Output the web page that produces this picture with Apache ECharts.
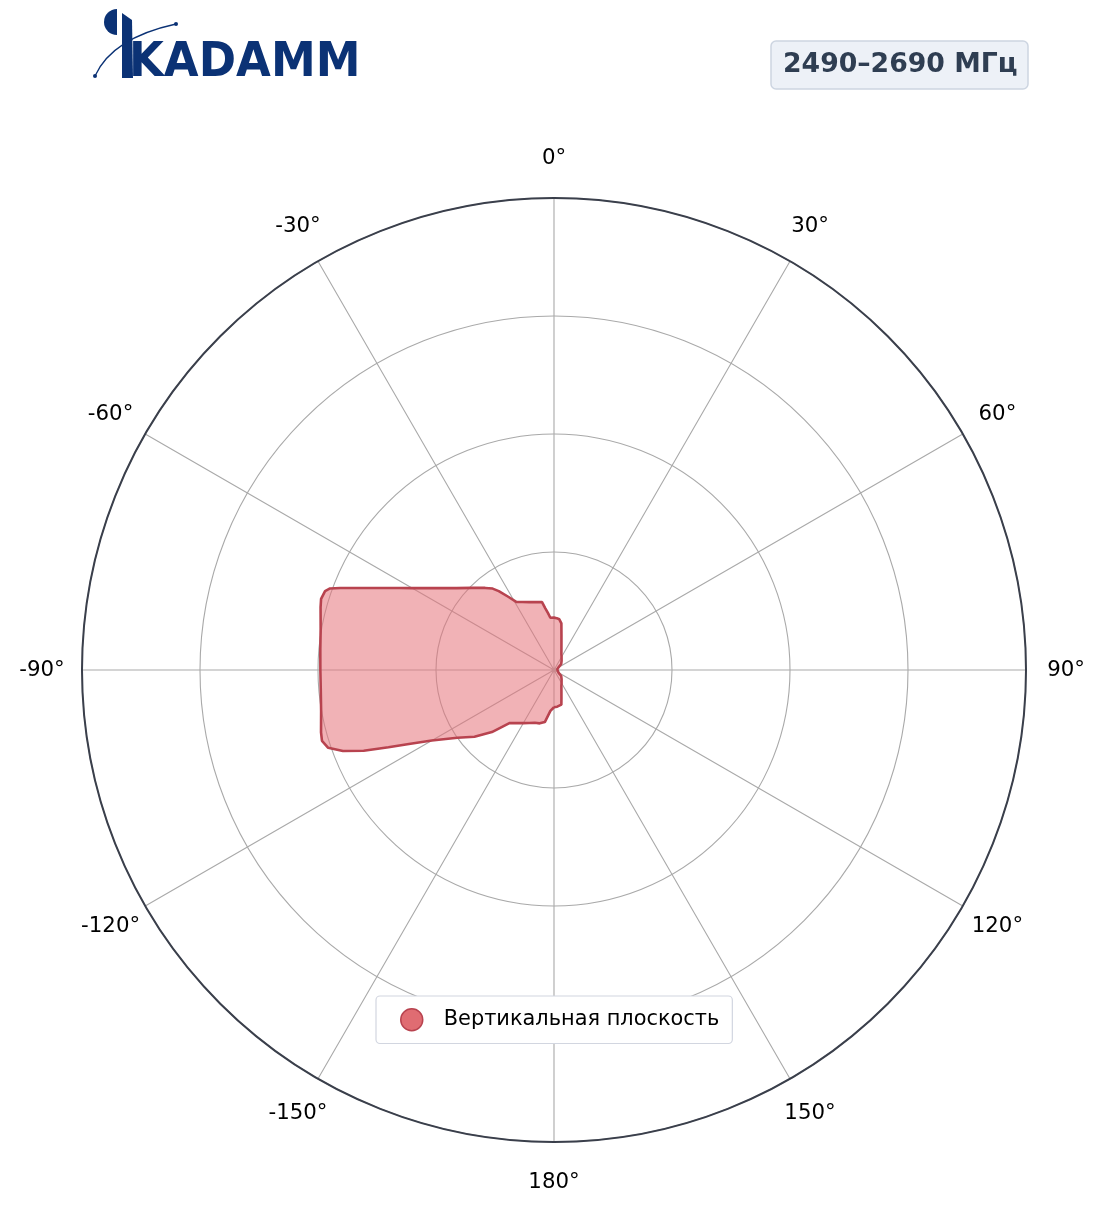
<!DOCTYPE html>
<html>
<head>
<meta charset="utf-8">
<script src="https://cdn.jsdelivr.net/npm/echarts@6/dist/echarts.min.js"></script>
<style>
html,body{margin:0;padding:0;background:#fff;}
#chart{width:1104px;height:1211px;}
</style>
</head>
<body>
<div id="chart"></div>
<script>
// ---- data ----
const bandLabel = '2490–2690 МГц';
const seriesName = 'Вертикальная плоскость';
const angleTicks = [-180, -150, -120, -90, -60, -30, 0, 30, 60, 90, 120, 150, 180];
const angles = [-180,-175,-170,-165,-160,-155,-150,-145,-140,-135,-130,-125,-120,-117,-115,-113,-111,-109,-107,-105,-100,-95,-90,-85,-80,-75,-73,-71,-70,-69,-67,-65,-62,-60,-55,-50,-45,-40,-37,-35,-32,-29,-25,-20,-15,-12,-10,-8,-6,-4,-2,0,3,6,9,12,15,20,25,30,40,50,60,70,80,90,100,110,120,130,140,150,155,160,165,168,171,175,180];
const gains = [0.079,0.087,0.112,0.117,0.119,0.124,0.130,0.137,0.147,0.186,0.220,0.250,0.299,0.345,0.387,0.438,0.479,0.506,0.514,0.511,0.501,0.496,0.495,0.497,0.502,0.512,0.516,0.513,0.505,0.485,0.445,0.411,0.370,0.347,0.303,0.270,0.246,0.227,0.216,0.204,0.183,0.165,0.159,0.153,0.149,0.147,0.146,0.132,0.121,0.111,0.111,0.111,0.110,0.108,0.100,0.076,0.061,0.046,0.037,0.032,0.025,0.020,0.011,0.008,0.007,0.006,0.007,0.008,0.011,0.020,0.025,0.032,0.037,0.046,0.061,0.075,0.076,0.078,0.079];
const radiusMax = 1;
const radiusStep = 0.25;

const chart = echarts.init(document.getElementById('chart'), null, {renderer: 'canvas'});
const pts = angles.map((a, i) => [gains[i], a]);
const FONT = 'DejaVu Sans';
const LBL = {fontFamily: FONT, fontSize: 21.3, color: '#000', align: 'center', verticalAlign: 'middle'};

// label boxes sized so that every tick label is centred ~512px from the pole
function labelKey(v) {
  const a = Math.abs(v);
  if (a === 0 || a === 180) return 'p0';
  if (a === 90) return 'p90';
  if (a === 30 || a === 150) return 'p30';
  return 'p60';
}

const option = {
  backgroundColor: '#ffffff',
  animation: false,
  title: {
    text: bandLabel,
    left: 771, top: 41,
    backgroundColor: '#edf1f7',
    borderColor: '#cdd5e1', borderWidth: 1.5, borderRadius: 5,
    padding: [10, 11, 10, 12],
    textStyle: {fontFamily: FONT, fontWeight: 'bold', fontSize: 26.7, color: '#2f3e52', lineHeight: 28}
  },
  legend: {
    data: [seriesName],
    left: 376, top: 996,
    backgroundColor: '#ffffff',
    borderColor: '#d2d6e0', borderWidth: 1.2, borderRadius: 4,
    padding: [12, 13, 12, 24],
    icon: 'circle', itemWidth: 22, itemHeight: 22, itemGap: 10,
    itemStyle: {color: '#e06c72', borderColor: '#b8434f', borderWidth: 1.5},
    textStyle: {fontFamily: FONT, fontSize: 20.9, color: '#000', padding: [0, 0, 0, 16]}
  },
  polar: {center: [554, 670], radius: 472},
  angleAxis: {
    type: 'value', min: -180, max: 180, interval: 30,
    startAngle: 270, clockwise: true,
    axisLine: {show: true, lineStyle: {color: '#3a3f4b', width: 2}},
    axisTick: {show: false},
    splitLine: {show: true, lineStyle: {color: '#a9a9a9', width: 1.1}},
    axisLabel: {
      show: true, margin: -22,
      formatter: v => {
        if (v === 180) return '';
        const t = (v === -180 ? 180 : v) + '°';
        return '{' + labelKey(v) + '|' + t + '}';
      },
      rich: {
        p0: Object.assign({width: 80, height: 124, lineHeight: 124}, LBL),
        p90: Object.assign({width: 124, height: 30, lineHeight: 30}, LBL),
        p30: Object.assign({width: 62, height: 107.4, lineHeight: 107.4}, LBL),
        p60: Object.assign({width: 107.4, height: 62, lineHeight: 62}, LBL)
      }
    }
  },
  radiusAxis: {
    type: 'value', min: 0, max: radiusMax, interval: radiusStep,
    axisLine: {show: false}, axisTick: {show: false}, axisLabel: {show: false},
    splitLine: {show: true, lineStyle: {color: '#a9a9a9', width: 1.1}}
  },
  series: [{
    name: seriesName,
    type: 'line', coordinateSystem: 'polar',
    data: pts, showSymbol: false, smooth: false,
    lineStyle: {color: '#b8434f', width: 2.6},
    itemStyle: {color: '#e06c72', borderColor: '#b8434f'},
    areaStyle: {color: '#e5737a', opacity: 0.55},
    z: 3
  }],
  graphic: [
    {type: 'sector', shape: {cx: 117, cy: 22, r0: 0, r: 13, startAngle: Math.PI * 0.5, endAngle: Math.PI * 1.5}, style: {fill: '#0b3275'}},
    {type: 'polygon', shape: {points: [[122, 13], [132, 20], [133, 78], [122, 78]]}, style: {fill: '#0b3275'}},
    {type: 'bezierCurve', shape: {x1: 95, y1: 76, cpx1: 112, cpy1: 38, x2: 176, y2: 24}, style: {stroke: '#0b3275', lineWidth: 1.3, fill: null}},
    {type: 'circle', shape: {cx: 95, cy: 76, r: 2}, style: {fill: '#0b3275'}},
    {type: 'circle', shape: {cx: 176, cy: 24, r: 2}, style: {fill: '#0b3275'}},
    {type: 'text', x: 129, y: 40, scaleY: 1.06, style: {text: 'KADAMM', fontFamily: FONT, fontWeight: 'bold', fontSize: 45, fill: '#0b3275', textVerticalAlign: 'top'}}
  ]
};
chart.setOption(option);
</script>
</body>
</html>
